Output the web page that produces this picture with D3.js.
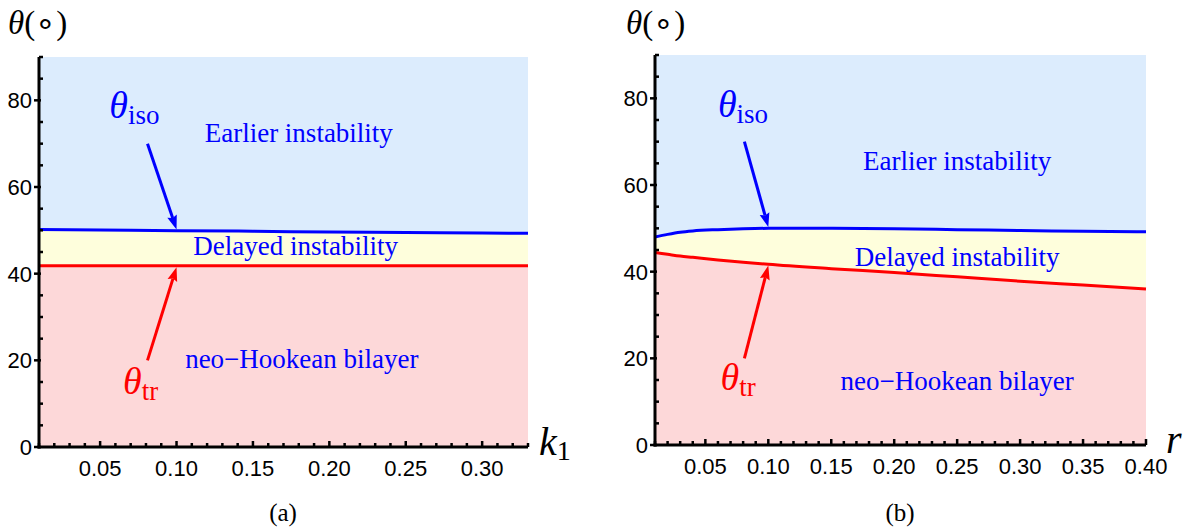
<!DOCTYPE html>
<html>
<head>
<meta charset="utf-8">
<script src="https://cdn.jsdelivr.net/npm/d3@7"></script>
<style>
  html, body { margin: 0; padding: 0; background: #fff; }
  svg { display: block; }
  .tick-label { font-family: "Liberation Sans", Arial, sans-serif; font-size: 22px; fill: #000; }
  .serif { font-family: "Liberation Serif", "Times New Roman", serif; }
</style>
</head>
<body>
<svg id="chart" width="1200" height="528"></svg>
<script>
// ---------- data ----------
const yTicks = [0, 20, 40, 60, 80];
const yMinorTicks = d3.range(0, 91, 5);

// panel (a): k1
const k1Values   = [0.01, 0.05, 0.10, 0.15, 0.20, 0.25, 0.30, 0.33];
const k1IsoTheta = [50.2, 50.1, 49.9, 49.8, 49.6, 49.5, 49.4, 49.3];
const k1TrTheta  = [41.8, 41.8, 41.8, 41.8, 41.8, 41.8, 41.8, 41.8];
const k1Ticks = [0.05, 0.10, 0.15, 0.20, 0.25, 0.30];

// panel (b): r
const rValues   = [0.01, 0.02, 0.03, 0.04, 0.06, 0.08, 0.10, 0.15, 0.20, 0.25, 0.30, 0.35, 0.40];
const rIsoTheta = [48.0, 48.6, 49.1, 49.4, 49.7, 49.9, 50.0, 50.0, 49.9, 49.7, 49.5, 49.3, 49.2];
const rTrTheta  = [44.4, 44.0, 43.6, 43.3, 42.7, 42.2, 41.7, 40.7, 39.8, 38.8, 37.8, 36.9, 36.0];
const rTicks = [0.05, 0.10, 0.15, 0.20, 0.25, 0.30, 0.35, 0.40];

const regionLabels = ["Earlier instability", "Delayed instability", "neo\u2212Hookean bilayer"];

// ---------- drawing ----------
const svg = d3.select("#chart");
svg.append("rect").attr("width", 1200).attr("height", 528).attr("fill", "#fff");

const colBlue = "#0000ff", colRed = "#ff0000";
const fillTop = "#dcecfd", fillMid = "#fefedc", fillBot = "#fdd8d9";

function panel(cfg) {
  const g = svg.append("g");
  const x = d3.scaleLinear().domain(cfg.xDomain).range([cfg.x0, cfg.x1]);
  const y = d3.scaleLinear().domain([0, 90]).range([cfg.y0, cfg.y1]);
  const data = cfg.xs.map((v, i) => ({ x: v, iso: cfg.iso[i], tr: cfg.tr[i] }));
  const curve = d3.curveMonotoneX;

  g.append("path").datum(data).attr("fill", fillTop)
    .attr("d", d3.area().curve(curve).x(d => x(d.x)).y0(() => y(90)).y1(d => y(d.iso)));
  g.append("path").datum(data).attr("fill", fillMid)
    .attr("d", d3.area().curve(curve).x(d => x(d.x)).y0(d => y(d.tr)).y1(d => y(d.iso)));
  g.append("path").datum(data).attr("fill", fillBot)
    .attr("d", d3.area().curve(curve).x(d => x(d.x)).y0(() => y(0)).y1(d => y(d.tr)));

  g.append("path").datum(data).attr("fill", "none").attr("stroke", colBlue).attr("stroke-width", 3)
    .attr("d", d3.line().curve(curve).x(d => x(d.x)).y(d => y(d.iso)));
  g.append("path").datum(data).attr("fill", "none").attr("stroke", colRed).attr("stroke-width", 3)
    .attr("d", d3.line().curve(curve).x(d => x(d.x)).y(d => y(d.tr)));

  // axes lines
  g.append("line").attr("x1", x.range()[0]).attr("x2", x.range()[0]).attr("y1", y(0) + 1.5).attr("y2", y(90))
    .attr("stroke", "#000").attr("stroke-width", 3);
  g.append("line").attr("x1", x.range()[0] - 1.5).attr("x2", x.range()[1]).attr("y1", y(0)).attr("y2", y(0))
    .attr("stroke", "#000").attr("stroke-width", 3);

  // y ticks
  yMinorTicks.forEach(v => {
    const major = yTicks.includes(v);
    g.append("line").attr("x1", x.range()[0] - (major ? 5 : 0)).attr("x2", x.range()[0] + (major ? 2 : 4))
      .attr("y1", y(v)).attr("y2", y(v)).attr("stroke", "#000").attr("stroke-width", 2.5);
  });
  yTicks.forEach(v => {
    g.append("text").attr("class", "tick-label").attr("x", x.range()[0] - 7).attr("y", y(v))
      .attr("dy", "0.36em").attr("text-anchor", "end").text(v);
  });

  // x ticks
  const minor = d3.range(Math.round(cfg.xDomain[0] * 100), Math.round(cfg.xDomain[1] * 100) + 1).map(v => v / 100);
  minor.forEach(v => {
    const major = cfg.xTicks.some(t => Math.abs(t - v) < 1e-9);
    g.append("line").attr("x1", x(v)).attr("x2", x(v)).attr("y1", y(0)).attr("y2", y(0) - (major ? 6 : 4))
      .attr("stroke", "#000").attr("stroke-width", 2.5);
  });
  cfg.xTicks.forEach(v => {
    g.append("text").attr("class", "tick-label").attr("x", x(v)).attr("y", y(0) + 29)
      .attr("text-anchor", "middle").text(v.toFixed(2));
  });

  // axis labels
  const yl = g.append("text").attr("class", "serif").attr("x", cfg.ylabX).attr("y", 34).attr("font-size", 33);
  yl.append("tspan").attr("font-style", "italic").text("\u03B8");
  yl.append("tspan").text("(\u2218)");

  const xl = g.append("text").attr("class", "serif").attr("x", cfg.xlabX).attr("y", y(0) + 8)
    .attr("font-size", 40).attr("font-style", "italic");
  xl.append("tspan").text(cfg.xlabel);
  if (cfg.xsub) xl.append("tspan").attr("font-style", "normal").attr("font-size", 28).attr("dy", 5).text(cfg.xsub);

  // region labels
  cfg.regionPos.forEach((p, i) => {
    g.append("text").attr("class", "serif").attr("x", x(p[0])).attr("y", y(p[1]))
      .attr("text-anchor", "middle").attr("font-size", 27).attr("fill", colBlue).text(regionLabels[i]);
  });

  // theta labels
  const ti = g.append("text").attr("class", "serif").attr("x", x(cfg.isoLab[0])).attr("y", y(cfg.isoLab[1]))
    .attr("fill", colBlue).attr("font-size", 38);
  ti.append("tspan").attr("font-style", "italic").text("\u03B8");
  ti.append("tspan").attr("font-size", 27).attr("dy", 6).text("iso");
  const tt = g.append("text").attr("class", "serif").attr("x", x(cfg.trLab[0])).attr("y", y(cfg.trLab[1]))
    .attr("fill", colRed).attr("font-size", 38);
  tt.append("tspan").attr("font-style", "italic").text("\u03B8");
  tt.append("tspan").attr("font-size", 27).attr("dy", 6).text("tr");

  // arrows
  function arrow(x0, y0, x1, y1, color) {
    const px0 = x(x0), py0 = y(y0), px1 = x(x1), py1 = y(y1);
    const ang = Math.atan2(py1 - py0, px1 - px0);
    const L = 14, W = 5;
    const bx = px1 - L * Math.cos(ang), by = py1 - L * Math.sin(ang);
    g.append("line").attr("x1", px0).attr("y1", py0).attr("x2", bx + 2 * Math.cos(ang)).attr("y2", by + 2 * Math.sin(ang))
      .attr("stroke", color).attr("stroke-width", 3);
    g.append("path").attr("fill", color)
      .attr("d", `M${px1},${py1}L${bx - W * Math.sin(ang)},${by + W * Math.cos(ang)}L${bx + 2 * Math.cos(ang)},${by + 2 * Math.sin(ang)}L${bx + W * Math.sin(ang)},${by - W * Math.cos(ang)}Z`);
  }
  const isoAt = d3.scaleLinear().domain(cfg.xs).range(cfg.iso);
  const trAt = d3.scaleLinear().domain(cfg.xs).range(cfg.tr);
  arrow(0.081, 70, 0.10, isoAt(0.10) + 0.3, colBlue);
  arrow(0.081, 20, 0.10, trAt(0.10) - 0.3, colRed);

  // caption
  g.append("text").attr("class", "serif").attr("x", cfg.capX).attr("y", 521).attr("text-anchor", "middle")
    .attr("font-size", 25).text(cfg.caption);
}

panel({
  xDomain: [0.01, 0.33], x0: 39, x1: 528, y0: 447, y1: 57,
  xs: k1Values, iso: k1IsoTheta, tr: k1TrTheta, xTicks: k1Ticks,
  ylabX: 8, xlabX: 539, xlabel: "k", xsub: "1",
  regionPos: [[0.18, 70.5], [0.178, 44.2], [0.182, 18.2]],
  isoLab: [0.056, 76], trLab: [0.065, 12.3],
  capX: 283, caption: "(a)"
});
panel({
  xDomain: [0.01, 0.40], x0: 655, x1: 1146, y0: 445, y1: 55,
  xs: rValues, iso: rIsoTheta, tr: rTrTheta, xTicks: rTicks,
  ylabX: 626, xlabX: 1166, xlabel: "r", xsub: null,
  regionPos: [[0.25, 63.5], [0.25, 41.3], [0.25, 12.6]],
  isoLab: [0.06, 75.6], trLab: [0.062, 12.6],
  capX: 900, caption: "(b)"
});
</script>
</body>
</html>
